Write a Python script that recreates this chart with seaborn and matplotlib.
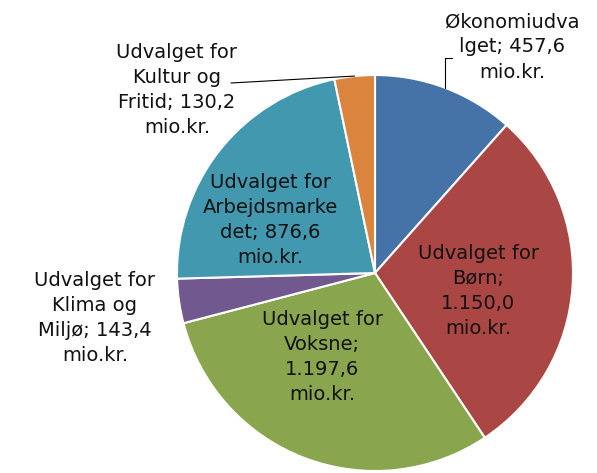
import numpy as np
import matplotlib
matplotlib.use("Agg")
import matplotlib.pyplot as plt
import seaborn as sns

sns.set_theme(style="white")
plt.rcParams['font.family'] = ['DejaVu Sans']

# data
udvalg = ["Økonomiudvalget", "Udvalget for Børn", "Udvalget for Voksne",
          "Udvalget for Klima og Miljø", "Udvalget for Arbejdsmarkedet",
          "Udvalget for Kultur og Fritid"]
beloeb = [457.6, 1150.0, 1197.6, 143.4, 876.6, 130.2]
etiketter = ["Økonomiudva\nlget; 457,6\nmio.kr.",
             "Udvalget for\nBørn;\n1.150,0\nmio.kr.",
             "Udvalget for\nVoksne;\n1.197,6\nmio.kr.",
             "Udvalget for\nKlima og\nMiljø; 143,4\nmio.kr.",
             "Udvalget for\nArbejdsmarke\ndet; 876,6\nmio.kr.",
             "Udvalget for\nKultur og\nFritid; 130,2\nmio.kr."]
farver = ["#4572A7", "#AA4643", "#89A54E", "#71588F", "#4198AF", "#DB843D"]

W, H = 597, 473
cx, cy, r = 375, 273, 198

fig = plt.figure(figsize=(W / 100, H / 100), dpi=100)
ax = fig.add_axes([(cx - r) / W, (H - cy - r) / H, 2 * r / W, 2 * r / H])

wedges, _ = ax.pie(beloeb, colors=farver, startangle=90, counterclock=False,
                   wedgeprops=dict(edgecolor="white", linewidth=1.5))
ax.set_xlim(-1, 1)
ax.set_ylim(-1, 1)
ax.set_aspect("equal")
ax.axis("off")


def px(x, y):
    return (x - cx) / r, (cy - y) / r


# label positions in pixels of the reference
pos = [(512, 47), (478, 291), (322, 357), (95, 318), (270, 220), (177, 90)]
for lab, (x, y) in zip(etiketter, pos):
    dx, dy = px(x, y)
    ax.text(dx, dy, lab, ha="center", va="center", fontsize=14,
            color="#111111", linespacing=1.42, clip_on=False)


# leader lines
def kant(w):
    a = np.deg2rad((w.theta1 + w.theta2) / 2)
    return np.cos(a), np.sin(a)


ex, ey = kant(wedges[0])
_, ty = px(0, 58)
tx, _ = px(452, 0)
ax.plot([ex, ex, tx], [ey, ty, ty], color="black", lw=0.8, clip_on=False)

ex, ey = kant(wedges[5])
tx, ty = px(231, 83)
ax.plot([tx, ex], [ty, ey], color="black", lw=0.8, clip_on=False)

fig.savefig("out.png", dpi=100)
